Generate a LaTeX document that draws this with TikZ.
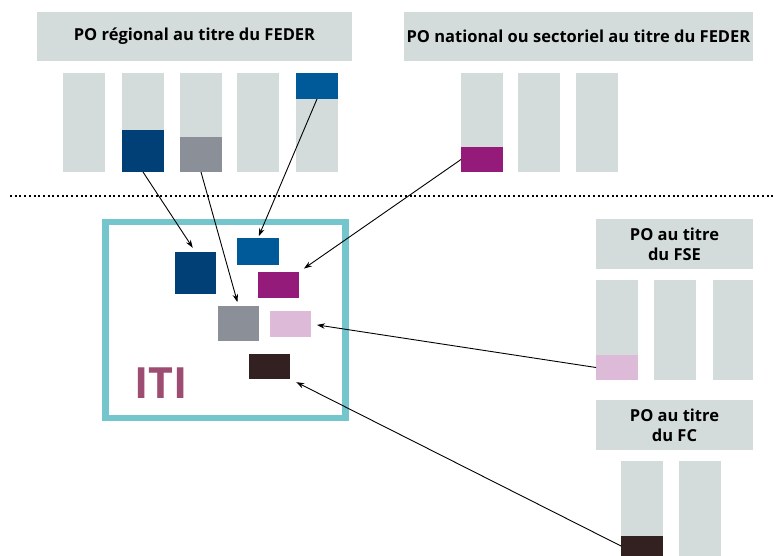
\documentclass[tikz,border=0pt]{standalone}
\usepackage{fontspec}
\setmainfont{Open Sans}
\usetikzlibrary{arrows.meta}
\definecolor{lgrey}{HTML}{D3DCDA}
\definecolor{dblue}{HTML}{004077}
\definecolor{mblue}{HTML}{005A9A}
\definecolor{mgrey}{HTML}{8B9098}
\definecolor{purp}{HTML}{941B79}
\definecolor{pink}{HTML}{DCBAD8}
\definecolor{dbrown}{HTML}{332020}
\definecolor{teal}{HTML}{74C6CC}
\definecolor{itic}{HTML}{9E4D72}
\tikzset{
  blk/.style={anchor=north west, inner sep=0pt, outer sep=0pt, draw=none},
  col/.style={blk, fill=lgrey, minimum width=42pt, minimum height=99pt},
  hdr/.style={blk, fill=lgrey, font=\bfseries\fontsize{16.5}{20}\selectfont, align=center},
  conn/.style={-{Stealth[length=8pt,width=5.5pt]}, line width=0.9pt, black},
}
\begin{document}
\begin{tikzpicture}[x=1pt,y=-1pt]
\useasboundingbox (0,0) rectangle (773,556);
% headers
\node[hdr, minimum width=315pt, minimum height=49pt] (h1) at (37,12) {PO régional au titre du FEDER};
\node[hdr, minimum width=349pt, minimum height=49pt] (h2) at (404,12) {PO national ou sectoriel au titre du FEDER};
\node[hdr, minimum width=157pt, minimum height=50pt] (h3) at (596,219) {PO au titre\\du FSE};
\node[hdr, minimum width=157pt, minimum height=50pt] (h4) at (596,400) {PO au titre\\du FC};
% regional columns
\node[col] (r1) at (63,73) {};
\node[col] (r2) at (122,73) {};
\node[col] (r3) at (180,73) {};
\node[col] (r4) at (237,73) {};
\node[col] (r5) at (296,73) {};
\node[blk, fill=dblue, minimum width=42pt, minimum height=42pt] (r2b) at (122,130) {};
\node[blk, fill=mgrey, minimum width=42pt, minimum height=35pt] (r3b) at (180,137) {};
\node[blk, fill=mblue, minimum width=42pt, minimum height=26pt] (r5b) at (296,73) {};
% national columns
\node[col] (n1) at (461,73) {};
\node[col] (n2) at (518,73) {};
\node[col] (n3) at (576,73) {};
\node[blk, fill=purp, minimum width=42pt, minimum height=25pt] (n1b) at (461,147) {};
% FSE columns
\node[col, minimum height=100pt] (s1) at (596,280) {};
\node[col, minimum height=100pt] (s2) at (654,280) {};
\node[col, minimum height=100pt, minimum width=40pt] (s3) at (713,280) {};
\node[blk, fill=pink, minimum width=42pt, minimum height=25pt] (s1b) at (596,355) {};
% FC columns
\node[col, minimum height=95pt] (c1) at (621,461) {};
\node[col, minimum height=95pt] (c2) at (679,461) {};
\node[blk, fill=dbrown, minimum width=42pt, minimum height=20pt] (c1b) at (621,536) {};
% dotted separator
\coordinate (dl) at (10,196);
\coordinate (dr) at (773,196);
\draw[line width=2pt, dash pattern=on 2pt off 2.7pt] (dl) -- (dr);
% ITI box
\node[blk, draw=teal, line width=6.5pt, minimum width=240pt, minimum height=196pt] (iti) at (105.5,222) {};
\node[anchor=south west, inner sep=0pt, text=itic, font=\bfseries\fontsize{43}{43}\selectfont] (itit) at (134,399) {ITI};
\node[blk, fill=dblue, minimum width=41pt, minimum height=42pt] (i1) at (175,252) {};
\node[blk, fill=mblue, minimum width=42pt, minimum height=27pt] (i2) at (237,238) {};
\node[blk, fill=purp, minimum width=41pt, minimum height=26pt] (i3) at (258,272) {};
\node[blk, fill=mgrey, minimum width=41pt, minimum height=35pt] (i4) at (218,306) {};
\node[blk, fill=pink, minimum width=41pt, minimum height=26pt] (i5) at (270,311) {};
\node[blk, fill=dbrown, minimum width=41pt, minimum height=25pt] (i6) at (249,354) {};
% connectors
\draw[conn, shorten >=5pt] (r2b.south) -- (i1.north);
\draw[conn, shorten >=4pt] (r3b.south) -- (i4.north);
\draw[conn, shorten >=2pt] (r5b.south) -- (i2.north);
\draw[conn, shorten >=6pt] (n1b.west) -- (i3.north east);
\draw[conn, shorten >=6pt] (s1b.west) -- (i5.east);
\draw[conn, shorten >=7pt] (c1b.west) -- (i6.south east);
\end{tikzpicture}
\end{document}
